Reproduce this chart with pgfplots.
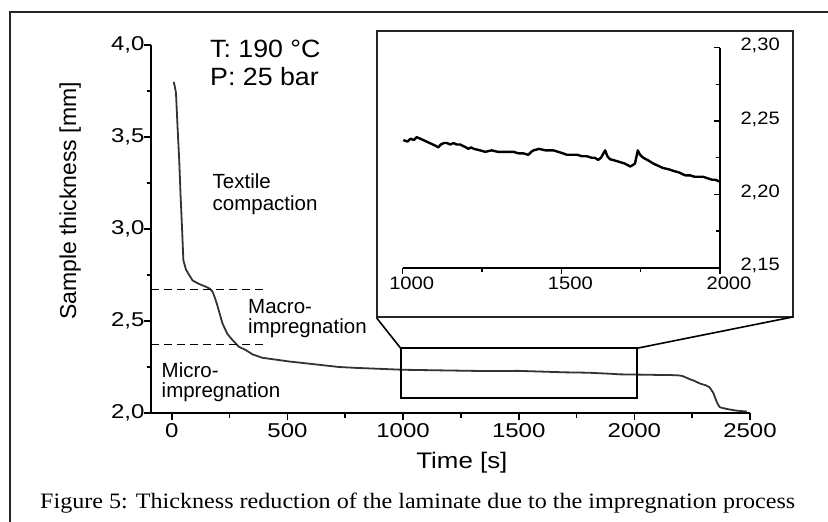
\documentclass[border=0pt]{standalone}
\usepackage{pgfplots}
\pgfplotsset{compat=1.18}
\usepackage{fontspec}
\usepackage{graphicx}
\setmainfont{Liberation Sans}
\newfontfamily\capfont{Liberation Serif}
\newcommand\fs[1]{\fontsize{#1}{#1}\selectfont}

\begin{document}
\begin{tikzpicture}[x=1pt,y=1pt]
\path[use as bounding box] (0,0) rectangle (828,-522);
% frame of the figure
\draw[line width=1.8pt, black!85] (10,-522) -- (10,-12) -- (828,-12);

% main plot
\begin{axis}[
  at={(151pt,-413pt)}, anchor=south west,
  scale only axis, width=599pt, height=368pt,
  xmin=-90, xmax=2500, ymin=2, ymax=4,
  axis lines=left, axis line style={-, line width=2pt},
  xtick={0,500,...,2500}, ytick={2,2.5,...,4}, minor tick num=1,
  tick align=outside, major tick length=7pt, minor tick length=4.5pt,
  tick style={line width=1.6pt, black},
  /pgf/number format/assume math mode=true,
  xticklabel={\scalebox{1.2}[1]{\pgfmathprintnumber{\tick}}},
  yticklabel={\scalebox{1.2}[1]{\pgfmathprintnumber{\tick}}},
  xticklabel style={font=\fs{20}, /pgf/number format/1000 sep={}},
  yticklabel style={font=\fs{20}, xshift=4pt,
    /pgf/number format/.cd, use comma, fixed, fixed zerofill, precision=1},
  xlabel={\scalebox{1.15}[1]{Time [s]}},
  xlabel style={font=\fs{22.5}, at={(axis description cs:0.519,-0.136)}, anchor=center},
  ylabel={Sample thickness [mm]},
  ylabel style={font=\fs{23}, at={(axis description cs:-0.135,0.576)}, anchor=center},
]
\addplot[black!80, line width=1.8pt, line join=round] coordinates {
(8,3.80) (12,3.78) (18,3.74) (25,3.55) (32,3.375) (38,3.18) (44,3.01)
(50,2.83) (61,2.78) (75,2.75) (90,2.72) (120,2.70) (148,2.686) (165,2.675)
(176,2.66) (188,2.62) (198,2.58) (219,2.487) (240,2.43) (262,2.397)
(290,2.36) (320,2.342) (350,2.318) (392,2.30) (450,2.29) (507,2.28)
(580,2.27) (651,2.26) (723,2.25) (800,2.245) (900,2.24) (1000,2.235)
(1100,2.233) (1200,2.231) (1300,2.229) (1400,2.228) (1500,2.229)
(1600,2.225) (1700,2.221) (1800,2.219) (1900,2.213) (1938,2.210)
(2000,2.209) (2100,2.207) (2160,2.206) (2197,2.204) (2212,2.199) (2241,2.183)
(2255,2.177) (2284,2.160) (2310,2.150) (2325,2.140) (2341,2.110)
(2356,2.061) (2363,2.043) (2370,2.031) (2399,2.022) (2440,2.013) (2486,2.008)
};
\draw[dash pattern=on 8pt off 5pt, line width=1.5pt] (axis cs:-90,2.672) -- (axis cs:409,2.672);
\draw[dash pattern=on 8pt off 5pt, line width=1.5pt] (axis cs:-90,2.373) -- (axis cs:409,2.373);
\draw[line width=1.8pt] (axis cs:990,2.083) rectangle (axis cs:2010,2.352);
\end{axis}

% zoomed inset
\begin{axis}[
  at={(402.7pt,-267.7pt)}, anchor=south west,
  scale only axis, width=317.3pt, height=220pt,
  xmin=1000, xmax=2000, ymin=2.15, ymax=2.30,
  axis x line=bottom, axis y line=right, axis line style={-, line width=1.8pt},
  xtick={1000,1500,2000}, ytick={2.15,2.20,2.25,2.30}, minor tick num=1,
  xtick align=outside, ytick align=inside,
  major tick length=6pt, minor tick length=4pt,
  tick style={line width=1.5pt, black},
  /pgf/number format/assume math mode=true,
  xticklabel={\scalebox{1.12}[1]{\pgfmathprintnumber{\tick}}},
  yticklabel={\scalebox{1.12}[1]{\pgfmathprintnumber{\tick}}},
  xticklabel style={font=\fs{18}, xshift=9pt, /pgf/number format/1000 sep={}},
  yticklabel style={font=\fs{18}, anchor=west, xshift=17pt, yshift=2pt,
    /pgf/number format/.cd, use comma, fixed, fixed zerofill, precision=2},
]
\addplot[black, line width=2.4pt, line join=round] coordinates {
(1002,2.237) (1015,2.236) (1025,2.238) (1035,2.237) (1044,2.239) (1055,2.238)
(1065,2.237) (1075,2.236) (1085,2.235) (1095,2.234) (1105,2.233) (1112,2.232)
(1120,2.234) (1130,2.235) (1139,2.235) (1150,2.234) (1160,2.235) (1170,2.234)
(1181,2.234) (1190,2.233) (1200,2.232) (1207,2.231) (1215,2.232) (1225,2.231)
(1244,2.230) (1260,2.229) (1280,2.230) (1300,2.229) (1320,2.229) (1349,2.229)
(1365,2.228) (1380,2.228) (1396,2.227) (1405,2.229) (1412,2.230) (1430,2.231)
(1450,2.230) (1475,2.230) (1490,2.229) (1505,2.228) (1517,2.227) (1530,2.227)
(1550,2.227) (1565,2.226) (1580,2.226) (1595,2.225) (1605,2.225) (1616,2.2235)
(1625,2.225) (1638,2.230) (1645,2.226) (1653,2.224) (1670,2.223) (1685,2.222)
(1700,2.221) (1717,2.219) (1725,2.220) (1732,2.221) (1741,2.230) (1748,2.227)
(1758,2.225) (1775,2.223) (1790,2.221) (1800,2.220) (1820,2.218) (1840,2.217)
(1853,2.216) (1870,2.215) (1890,2.213) (1905,2.213) (1920,2.212) (1935,2.212)
(1947,2.212) (1960,2.211) (1975,2.210) (1985,2.210) (1995,2.209) (2000,2.209)
};
\end{axis}

% inset frame and connectors
\draw[line width=2.2pt, black!85] (376.7,-30.7) rectangle (792.7,-317);
\draw[line width=1.6pt] (376.7,-318) -- (400.7,-348.3);
\draw[line width=1.6pt] (636.7,-348.3) -- (792.7,-317);

% annotations
\node[anchor=base west, inner sep=0, font=\fs{25}] at (210,-57.3) {\scalebox{1.07}[1]{T: 190 °C}};
\node[anchor=base west, inner sep=0, font=\fs{25}] at (210,-85) {\scalebox{1.07}[1]{P: 25 bar}};
\node[anchor=base west, inner sep=0, font=\fs{20.5}] at (212.5,-188.3) {Textile};
\node[anchor=base west, inner sep=0, font=\fs{20.5}] at (212.5,-210) {compaction};
\node[anchor=base west, inner sep=0, font=\fs{20.5}] at (248,-313.3) {Macro-};
\node[anchor=base west, inner sep=0, font=\fs{20.5}] at (248,-333.3) {impregnation};
\node[anchor=base west, inner sep=0, font=\fs{20.5}] at (161.5,-377.7) {Micro-};
\node[anchor=base west, inner sep=0, font=\fs{20.5}] at (161.5,-397.3) {impregnation};

% caption
\node[anchor=base west, inner sep=0, font=\capfont\fs{22}] at (40,-508)
  {\resizebox{755pt}{\height}{Figure 5: Thickness reduction of the laminate due to the impregnation process}};
\end{tikzpicture}
\end{document}
